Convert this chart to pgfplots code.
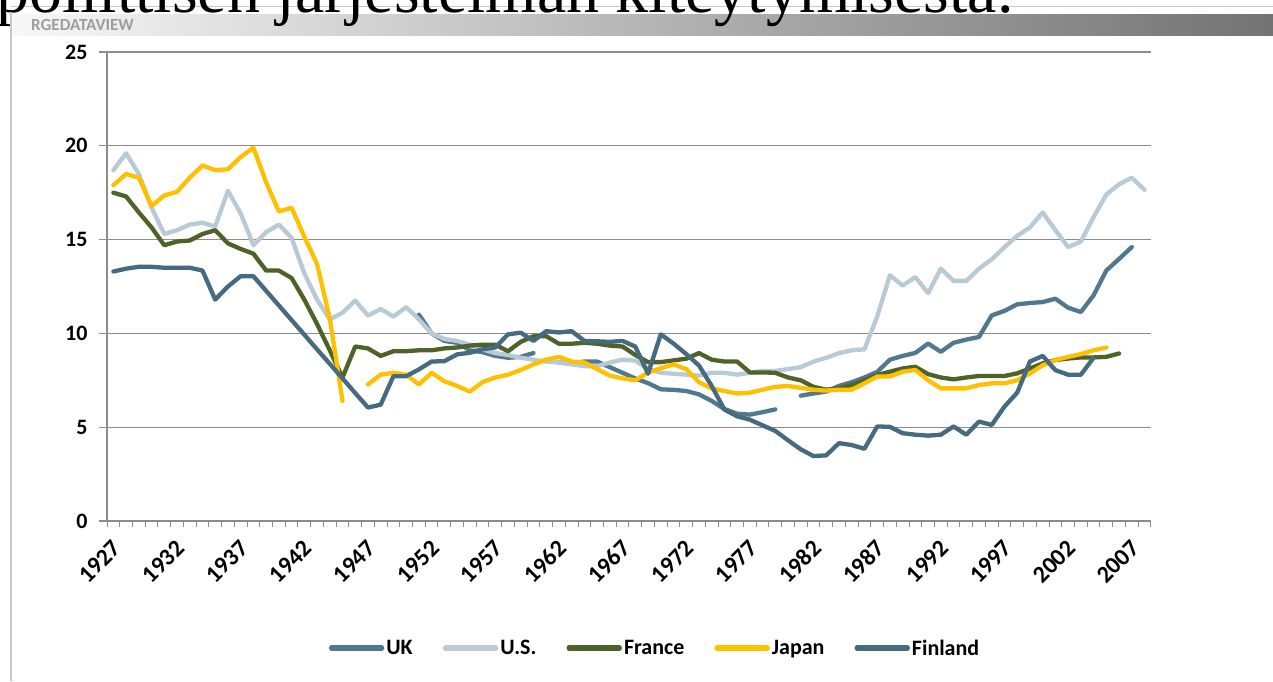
\documentclass[border=0pt]{standalone}
\usepackage{fontspec}
\setmainfont{Carlito}
\newfontfamily\titlefont{Liberation Serif}
\usepackage{pgfplots}
\usepackage{pgfplotstable}
\pgfplotsset{compat=1.18}
\definecolor{ukc}{HTML}{52788F}
\definecolor{usc}{HTML}{B7CAD6}
\definecolor{frc}{HTML}{4F6228}
\definecolor{jpc}{HTML}{FFC000}
\definecolor{fic}{HTML}{466A80}
\definecolor{gridc}{HTML}{8C8C8C}
\pgfplotstableread{
year uk us fr jp fi
1927 nan 18.7 17.5 17.9 13.3
1928 nan 19.6 17.3 18.5 13.45
1929 nan 18.5 16.45 18.3 13.55
1930 nan 16.7 15.65 16.8 13.55
1931 nan 15.3 14.7 17.35 13.5
1932 nan 15.5 14.9 17.55 13.5
1933 nan 15.8 14.95 18.3 13.5
1934 nan 15.9 15.3 18.95 13.35
1935 nan 15.7 15.5 18.7 11.8
1936 nan 17.6 14.8 18.75 12.5
1937 nan 16.4 14.5 19.4 13.05
1938 nan 14.7 14.25 19.9 13.05
1939 nan 15.4 13.35 18.05 12.27
1940 nan 15.8 13.35 16.5 11.49
1941 nan 15.1 12.95 16.7 10.71
1942 nan 13.2 11.8 15.15 9.93
1943 nan 11.8 10.5 13.7 9.15
1944 nan 10.75 9.1 10.8 8.38
1945 nan 11.1 7.65 6.4 7.6
1946 nan 11.75 9.3 nan 6.82
1947 nan 10.95 9.2 7.28 6.05
1948 nan 11.3 8.8 7.8 6.2
1949 nan 10.9 9.05 7.9 7.72
1950 nan 11.4 9.05 7.8 7.72
1951 11.0 10.75 9.1 7.28 8.08
1952 10.0 10.0 9.1 7.9 8.5
1953 9.6 9.7 9.2 7.45 8.52
1954 9.5 9.6 9.25 7.2 8.88
1955 9.1 9.4 9.35 6.9 8.97
1956 9.0 9.15 9.4 7.4 9.15
1957 8.8 8.95 9.4 7.65 9.25
1958 8.7 8.85 9.05 7.8 9.95
1959 8.75 8.7 9.55 8.05 10.04
1960 8.95 8.6 9.85 8.35 9.6
1961 nan 8.5 9.85 8.6 10.12
1962 8.45 8.45 9.45 8.75 10.05
1963 8.4 8.35 9.45 8.5 10.12
1964 8.5 8.25 9.5 8.45 9.6
1965 8.5 8.25 9.45 8.1 9.58
1966 8.2 8.45 9.35 7.75 9.55
1967 7.9 8.6 9.3 7.6 9.6
1968 7.6 8.55 8.85 7.5 9.3
1969 7.35 8.1 8.47 7.92 7.85
1970 7.02 7.9 8.47 8.14 9.95
1971 6.99 7.85 8.56 8.35 9.46
1972 6.93 7.8 8.65 8.1 8.9
1973 6.75 7.75 8.95 7.4 8.29
1974 6.4 7.9 8.6 7.06 7.2
1975 5.97 7.9 8.5 6.93 5.94
1976 5.72 7.8 8.5 6.8 5.58
1977 5.67 7.9 7.92 6.84 5.4
1978 5.8 8.0 7.92 7.0 5.1
1979 5.95 8.0 7.9 7.15 4.8
1980 nan 8.1 7.65 7.2 4.3
1981 6.68 8.2 7.5 7.1 3.82
1982 6.8 8.5 7.15 7.0 3.46
1983 6.9 8.7 7.0 6.95 3.5
1984 7.2 8.95 7.07 7.0 4.15
1985 7.4 9.1 7.25 7.0 4.05
1986 7.65 9.15 7.5 7.34 3.85
1987 7.95 10.9 7.78 7.7 5.04
1988 8.6 13.1 7.96 7.7 5.02
1989 8.8 12.55 8.13 7.96 4.68
1990 8.96 13.0 8.22 8.05 4.6
1991 9.46 12.15 7.83 7.5 4.55
1992 9.02 13.45 7.65 7.07 4.6
1993 9.5 12.8 7.55 7.07 5.04
1994 9.67 12.8 7.65 7.07 4.6
1995 9.81 13.45 7.73 7.25 5.3
1996 10.96 13.95 7.73 7.34 5.12
1997 11.2 14.6 7.73 7.34 6.1
1998 11.55 15.2 7.87 7.5 6.84
1999 11.62 15.65 8.13 7.87 8.5
2000 11.67 16.45 8.4 8.3 8.8
2001 11.85 15.5 8.58 8.58 8.04
2002 11.37 14.6 8.66 8.75 7.8
2003 11.14 14.9 8.72 8.9 7.8
2004 12.03 16.2 8.72 9.1 8.7
2005 13.35 17.4 8.75 9.25 nan
2006 13.97 17.95 8.93 nan nan
2007 14.6 18.3 nan nan nan
2008 nan 17.65 nan nan nan
}\data
\begin{document}
\begin{tikzpicture}
\useasboundingbox (0pt,0pt) rectangle (1273pt,681pt);
\fill[white] (0pt,0pt) rectangle (1273pt,681pt);
\draw[black!22, line width=1pt] (11pt,674pt) -- (1273pt,674pt);
\shade[left color=black!3, right color=black!55] (13pt,645pt) rectangle (1273pt,666pt);
\node[anchor=west, inner sep=0pt, font=\bfseries\fontsize{17}{17}\selectfont, text=black!38] at (31pt,656pt) {RGEDATAVIEW};
\begin{scope}
\clip (0pt,0pt) rectangle (1273pt,681pt);
\node[anchor=base west, inner sep=0pt, font=\titlefont\fontsize{66}{70}\selectfont] at (-4pt,668pt) {poliittisen järjestelmän kiteytymisestä.};
\end{scope}
\draw[black!22, line width=2pt] (11pt,0pt) -- (11pt,669pt);
\begin{axis}[
  at={(107pt,160pt)}, anchor=south west,
  width=1044pt, height=469pt, scale only axis,
  xmin=1926.5, xmax=2008.5, ymin=0, ymax=25,
  axis lines*=left,
  axis line style={gridc, line width=1.2pt, -},
  ymajorgrids, grid style={gridc, line width=1.2pt},
  ytick={0,5,...,25},
  xtick={1927,1932,...,2007},
  minor xtick={1926.5,1927.5,...,2008.5},
  tick align=outside,
  major tick length=8pt, minor tick length=6pt,
  major x tick style={draw=none},
  minor x tick style={gridc, line width=1pt},
  major y tick style={gridc, line width=1.2pt},
  /pgf/number format/set thousands separator={},
  x tick label style={xshift=6pt, yshift=-13pt, rotate=45, anchor=east, font=\bfseries\fontsize{24}{24}\selectfont},
  y tick label style={font=\bfseries\fontsize{22}{22}\selectfont, xshift=-8pt},
  /pgf/number format/assume math mode=true,
  unbounded coords=jump,
  no markers,
  every axis plot/.append style={line width=4.3pt, line join=round, line cap=round},
  legend columns=5,
  legend style={draw=none, fill=none, at={(0.525,-0.271)}, anchor=center,
    font=\bfseries\fontsize{22}{22}\selectfont,
    /tikz/every even column/.append style={column sep=28pt}},
  legend image code/.code={\draw[#1, line width=5.5pt, line cap=round] (0pt,0pt) -- (50pt,0pt);},
]
\addplot[ukc] table[x=year,y=uk]{\data};
\addplot[usc] table[x=year,y=us]{\data};
\addplot[frc] table[x=year,y=fr]{\data};
\addplot[jpc] table[x=year,y=jp]{\data};
\addplot[fic] table[x=year,y=fi]{\data};
\legend{UK,U.S.,France,Japan,Finland}
\end{axis}
\end{tikzpicture}
\end{document}
